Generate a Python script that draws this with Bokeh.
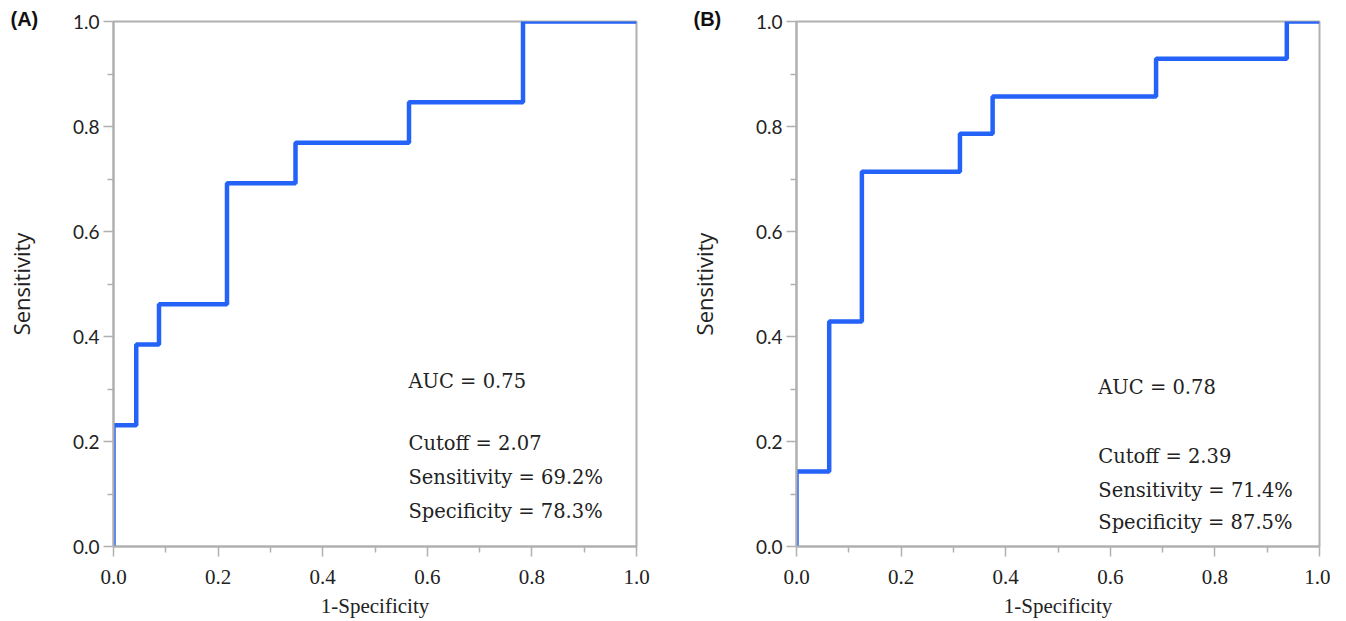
from bokeh.plotting import figure
from bokeh.layouts import row
from bokeh.models import Range1d, Label, FixedTicker, Title
from bokeh.embed import file_html
from bokeh.resources import INLINE

# Panel A ROC data (1-specificity, sensitivity)
fpr_a = [0.0, 0.0, 0.0435, 0.087, 0.217, 0.348, 0.565, 0.783, 1.0]
tpr_a = [0.0, 0.231, 0.385, 0.4615, 0.692, 0.769, 0.846, 1.0, 1.0]
# Panel B ROC data
fpr_b = [0.0, 0.0, 0.0625, 0.125, 0.3125, 0.375, 0.6875, 0.9375, 1.0]
tpr_b = [0.0, 0.143, 0.4286, 0.714, 0.786, 0.857, 0.929, 1.0, 1.0]

panel_labels = ["(A)", "(B)"]
notes_a = ["AUC = 0.75", "Cutoff = 2.07", "Sensitivity = 69.2%", "Specificity = 78.3%"]
notes_b = ["AUC =  0.78", "Cutoff = 2.39", "Sensitivity = 71.4%", "Specificity = 87.5%"]
tick_vals = [0.0, 0.2, 0.4, 0.6, 0.8, 1.0]
x_title = "1-Specificity"
y_title = "Sensitivity"

LINE = "#2462f8"
GRAY = "#b0b0b0"
SERIF = "DejaVu Serif"
XSERIF = "Liberation Serif"
SANS = "Lato"


def make_panel(fpr, tpr, label, notes, note_x, note_ys, width, bl, br):
    p = figure(width=width, height=620, output_backend="svg", toolbar_location=None,
               x_range=Range1d(0, 1), y_range=Range1d(0, 1),
               min_border_left=bl, min_border_right=br, min_border_top=21,
               min_border_bottom=68)
    p.xgrid.visible = False
    p.ygrid.visible = False
    p.outline_line_color = GRAY
    p.outline_line_width = 2
    p.background_fill_color = "white"
    p.border_fill_color = "white"
    for ax in (p.xaxis, p.yaxis):
        ax.ticker = FixedTicker(ticks=tick_vals,
                                minor_ticks=[0.1, 0.3, 0.5, 0.7, 0.9])
        ax.axis_line_color = GRAY
        ax.axis_line_width = 2
        ax.major_tick_line_color = GRAY
        ax.minor_tick_line_color = GRAY
        ax.major_tick_line_width = 1.5
        ax.minor_tick_line_width = 1.5
        ax.major_tick_out = 10
        ax.major_tick_in = 0
        ax.minor_tick_out = 6
        ax.minor_tick_in = 0
        ax.major_label_text_color = "#222222"
        ax.axis_label_text_color = "#222222"
        ax.axis_label_text_font_style = "normal"
    p.xaxis.major_label_overrides = {v: f"{v:.1f}" for v in tick_vals}
    p.yaxis.major_label_overrides = {v: f"{v:.1f}" for v in tick_vals}
    p.xaxis.major_label_text_font = XSERIF
    p.xaxis.axis_label_text_font = XSERIF
    p.xaxis.major_label_text_font_size = "21px"
    p.xaxis.axis_label_text_font_size = "21px"
    p.yaxis.major_label_text_font = SANS
    p.yaxis.axis_label_text_font = "Open Sans"
    p.yaxis.major_label_text_font_size = "19px"
    p.yaxis.axis_label_text_font_size = "22px"
    p.xaxis.axis_label = x_title
    p.yaxis.axis_label = y_title
    p.xaxis.major_label_standoff = 13
    p.xaxis.axis_label_standoff = 7
    p.yaxis.major_label_standoff = 4
    p.yaxis.axis_label_standoff = 34

    p.step(fpr, tpr, mode="after", line_color=LINE, line_width=4.5)

    for txt, yy in zip(notes, note_ys):
        p.add_layout(Label(x=note_x, y=yy, text=txt, text_font=SERIF,
                           text_font_size="19.5px", text_color="#222222",
                           text_baseline="middle", text_align="left"))
    p.add_layout(Title(text=label, align="left", offset=-103,
                       text_font="Liberation Sans", text_font_style="bold",
                       text_font_size="20px", text_color="#111111",
                       standoff=-16), "above")
    return p


pa = make_panel(fpr_a, tpr_a, panel_labels[0], notes_a, 0.564,
                [0.315, 0.197, 0.132, 0.067], 660, 113, 24)
pb = make_panel(fpr_b, tpr_b, panel_labels[1], notes_b, 0.577,
                [0.302, 0.172, 0.107, 0.046], 670, 136, 11)

layout = row(pa, pb, spacing=0)
open("out.html", "w").write(file_html(layout, INLINE))
